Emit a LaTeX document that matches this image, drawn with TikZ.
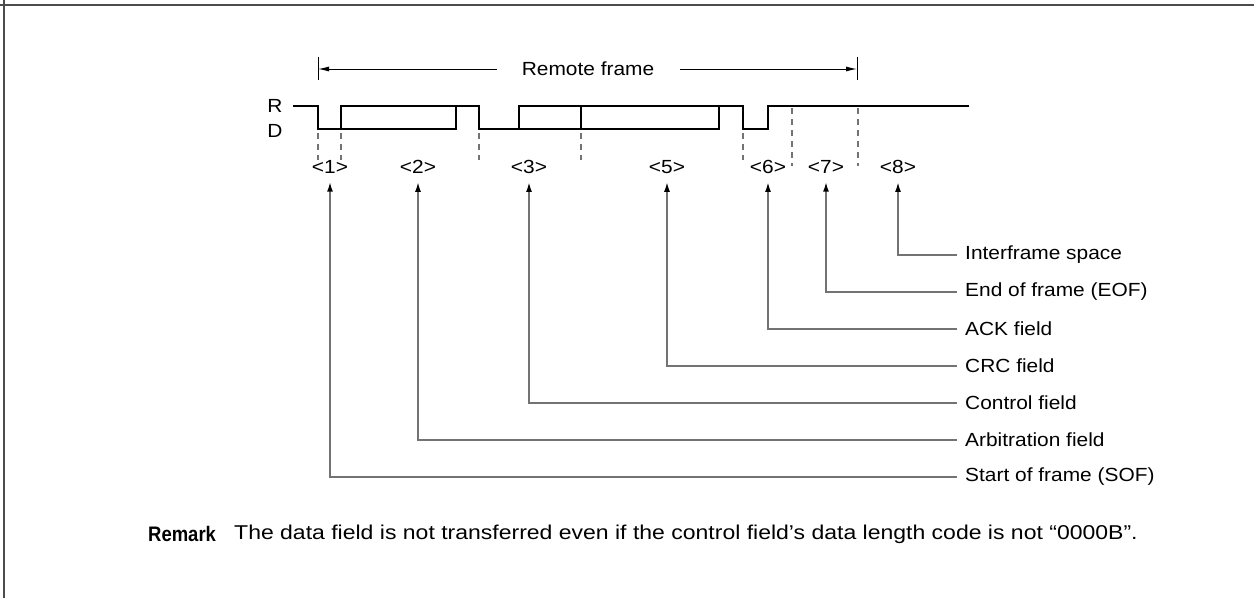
\documentclass[tikz,border=0pt]{standalone}
\usepackage{fontspec}
\setmainfont{Liberation Sans}[FakeStretch=1.1]
\newfontfamily\remarkfont{Liberation Sans}[FakeStretch=1.15]
\newfontfamily\condfont{Liberation Sans}[FakeStretch=0.88]
\usetikzlibrary{arrows.meta}
\begin{document}
\begin{tikzpicture}[x=1pt,y=-1pt,
  sig/.style={line width=2.6pt, line join=miter, line cap=rect},
  guide/.style={draw=black!55, line width=1.3pt, dash pattern=on 6pt off 5pt},
  lead/.style={draw=black!55, line width=1.8pt, -{Latex[length=10pt,width=6pt,black]}},
  bar/.style={draw=black, line width=1pt},
  farrow/.style={draw=black, line width=1pt, -{Latex[length=11pt,width=5pt]}},
  lbl/.style={font=\fontsize{19}{22}\selectfont, inner sep=0pt},
  fld/.style={lbl, anchor=west}
]
\useasboundingbox (0,0) rectangle (1254,598);
\draw[black!70, line width=2pt] (0,5) -- (1254,5);
\draw[black!70, line width=2pt] (4,0) -- (4,598);

% Remote frame span
\node[lbl] (rf) at (588,69) {Remote frame};
\coordinate (bl) at (318,69);
\coordinate (br) at (857,69);
\draw[bar] (318,57) -- (318,80);
\draw[bar] (857,57) -- (857,80);
\draw[farrow] ([xshift=-25pt]rf.west) -- (bl);
\draw[farrow] ([xshift=26pt]rf.east) -- (br);

% R / D labels
\node[lbl] (R) at (275,106) {R};
\node[lbl] (D) at (275,131) {D};

% waveform
\draw[sig] (294,106) -- (318,106) -- (318,129) -- (456,129) -- (456,106) -- (479,106)
  -- (479,129) -- (719,129) -- (719,106) -- (743,106) -- (743,129) -- (768,129)
  -- (768,106) -- (968,106);
\draw[sig] (341,129) -- (341,106) -- (456,106);
\draw[sig] (519,129) -- (519,106) -- (719,106);
\draw[sig] (581,106) -- (581,129);

% dashed guides
\draw[guide] (318,133) -- (318,160);
\draw[guide] (341,133) -- (341,160);
\draw[guide] (479,133) -- (479,160);
\draw[guide] (581,133) -- (581,160);
\draw[guide] (743,133) -- (743,160);
\draw[guide] (792,108) -- (792,166);
\draw[guide] (858,108) -- (858,166);

% field numbers
\node[lbl] (n1) at (330,167) {<1>};
\node[lbl] (n2) at (418,167) {<2>};
\node[lbl] (n3) at (529,167) {<3>};
\node[lbl] (n5) at (667,167) {<5>};
\node[lbl] (n6) at (768,167) {<6>};
\node[lbl] (n7) at (826,167) {<7>};
\node[lbl] (n8) at (898,167) {<8>};

% field names
\node[fld] (t8) at (965,255) {Interframe space};
\node[fld] (t7) at (965,292) {End of frame (EOF)};
\node[fld] (t6) at (965,329) {ACK field};
\node[fld] (t5) at (965,366) {CRC field};
\node[fld] (t3) at (965,403) {Control field};
\node[fld] (t2) at (965,440) {Arbitration field};
\node[fld] (t1) at (965,477) {Start of frame (SOF)};

\foreach \k in {1,2,3,5,6,7,8}{
  \draw[lead, shorten >=8pt] ([xshift=-8pt]t\k.west) -| (n\k.south);
}

% remark
\node[lbl, anchor=west] (rk) at (148,534) {\condfont\bfseries\fontsize{21}{24}\selectfont Remark};
\node[lbl, anchor=west] (rt) at (234,534) {\remarkfont\fontsize{20}{23}\selectfont The data field is not transferred even if the control field’s data length code is not “0000B”.};
\end{tikzpicture}
\end{document}
